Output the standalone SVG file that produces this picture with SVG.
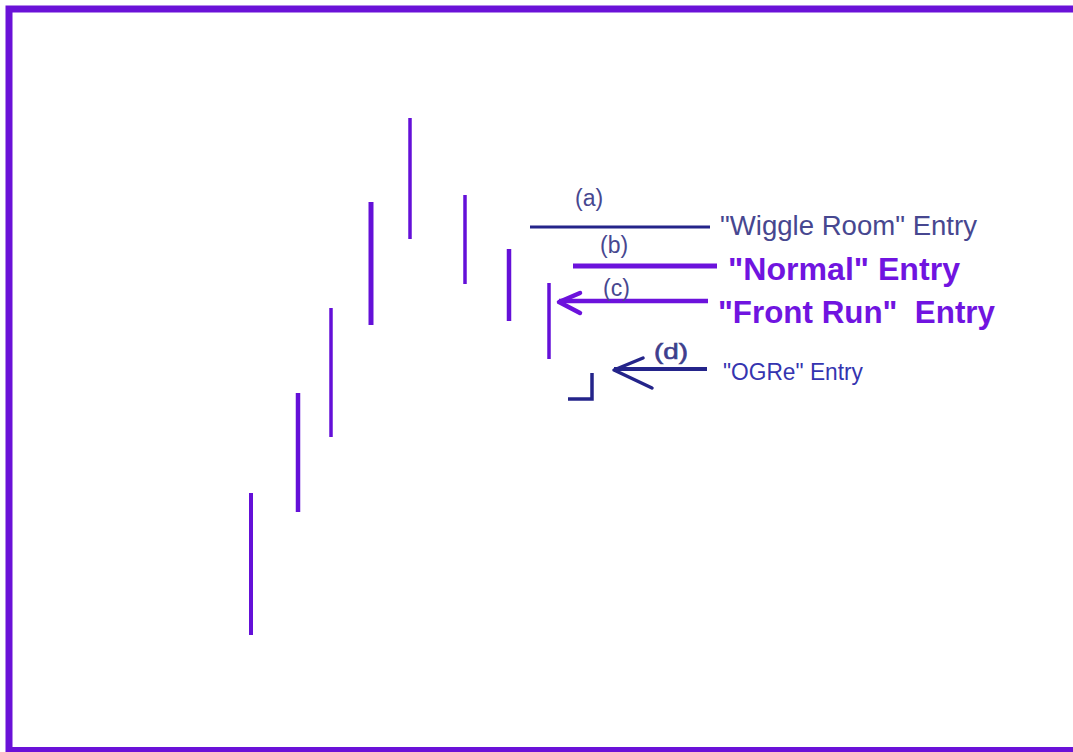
<svg xmlns="http://www.w3.org/2000/svg" width="1073" height="752" viewBox="0 0 1073 752">
<style>
.bar{stroke:#6410d8;stroke-linecap:butt;fill:none}
.navy{stroke:#24248a;fill:none}
.purp{stroke:#6c12dc;fill:none}
.lbl{font-family:"Liberation Sans",Arial,sans-serif;fill:#474790}
.bold{font-family:"Liberation Sans",Arial,sans-serif;font-weight:bold;fill:#7014e0}
</style>
<rect x="0" y="0" width="1073" height="752" fill="#ffffff"/>
<rect id="frame" x="9" y="9" width="1090" height="741.5" fill="none" stroke="#6a12d8" stroke-width="7"/>
<g id="bars">
<line class="bar" x1="251" y1="493" x2="251" y2="635" stroke-width="4"/>
<line class="bar" x1="298" y1="393" x2="298" y2="512" stroke-width="4.5"/>
<line class="bar" x1="331" y1="308" x2="331" y2="437" stroke-width="3.5"/>
<line class="bar" x1="371" y1="202" x2="371" y2="325" stroke-width="5"/>
<line class="bar" x1="410" y1="118" x2="410" y2="239" stroke-width="3.5"/>
<line class="bar" x1="465" y1="195" x2="465" y2="284" stroke-width="3.5"/>
<line class="bar" x1="509" y1="249" x2="509" y2="321" stroke-width="4.5"/>
<line class="bar" x1="549" y1="283" x2="549" y2="359" stroke-width="3.5"/>
</g>
<g id="connectors">
<line id="line-a" class="navy" x1="530" y1="227" x2="710" y2="227" stroke-width="3"/>
<line id="line-b" class="purp" x1="573" y1="266" x2="717" y2="266" stroke-width="5"/>
<g id="arrow-c">
<line class="purp" x1="559" y1="301" x2="708" y2="301" stroke-width="4.5"/>
<polyline class="purp" points="580,293 559,302 580,313" stroke-width="4.5" stroke-linejoin="round" stroke-linecap="round"/>
</g>
<g id="arrow-d">
<line class="navy" x1="614" y1="369" x2="707" y2="369" stroke-width="4"/>
<polyline class="navy" points="643,358 614,370 652,388" stroke-width="3.5" stroke-linejoin="round" stroke-linecap="round"/>
</g>
<polyline id="bracket" class="navy" points="568,399 592,399 592,373" stroke-width="3.5"/>
</g>
<g id="label-a">
<text class="lbl" x="575" y="206" font-size="23">(a)</text>
<text class="lbl" x="720" y="235" font-size="27" textLength="257" lengthAdjust="spacingAndGlyphs">"Wiggle Room" Entry</text>
</g>
<g id="label-b">
<text class="lbl" x="600" y="253" font-size="23">(b)</text>
<text class="bold" x="728" y="280" font-size="31" textLength="232" lengthAdjust="spacingAndGlyphs">"Normal" Entry</text>
</g>
<g id="label-c">
<text class="lbl" x="603" y="296" font-size="23">(c)</text>
<text class="bold" x="718" y="323" font-size="31" textLength="277" lengthAdjust="spacingAndGlyphs" xml:space="preserve">"Front Run"  Entry</text>
</g>
<g id="label-d">
<text class="lbl" x="654" y="359" font-size="22" style="fill:#3e3e8c;stroke:#3e3e8c;stroke-width:0.6" textLength="34" lengthAdjust="spacingAndGlyphs">(d)</text>
<text class="lbl" x="723" y="380" font-size="23" style="fill:#3434b0" textLength="140" lengthAdjust="spacingAndGlyphs">"OGRe" Entry</text>
</g>
</svg>
